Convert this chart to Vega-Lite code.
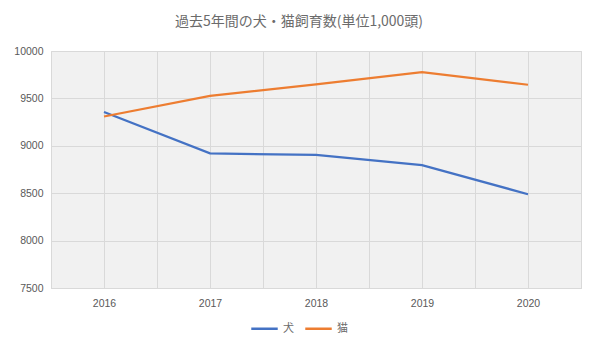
{
  "$schema": "https://vega.github.io/schema/vega-lite/v6.json",
  "width": 530,
  "height": 237,
  "autosize": "none",
  "padding": {"left": 51, "top": 51, "right": 17, "bottom": 65},
  "background": "white",
  "title": {
    "text": "過去5年間の犬・猫飼育数(単位1,000頭)",
    "font": "Noto Sans CJK JP",
    "fontSize": 14,
    "fontWeight": "normal",
    "color": "#6b6b6b",
    "anchor": "middle",
    "dx": -17,
    "offset": 17
  },
  "data": {
    "values": [
      {"year": 2016, "animal": "犬", "count": 9356},
      {"year": 2017, "animal": "犬", "count": 8920},
      {"year": 2018, "animal": "犬", "count": 8903},
      {"year": 2019, "animal": "犬", "count": 8797},
      {"year": 2020, "animal": "犬", "count": 8489},
      {"year": 2016, "animal": "猫", "count": 9309},
      {"year": 2017, "animal": "猫", "count": 9526},
      {"year": 2018, "animal": "猫", "count": 9649},
      {"year": 2019, "animal": "猫", "count": 9778},
      {"year": 2020, "animal": "猫", "count": 9644}
    ]
  },
  "mark": {"type": "line", "strokeWidth": 2.25},
  "encoding": {
    "x": {
      "field": "year",
      "type": "quantitative",
      "scale": {"domain": [2015.5, 2020.5], "nice": false, "zero": false},
      "axis": {
        "title": null,
        "values": [2015.5, 2016, 2016.5, 2017, 2017.5, 2018, 2018.5, 2019, 2019.5, 2020, 2020.5],
        "labelExpr": "datum.value % 1 == 0 ? '' + datum.value : ''",
        "ticks": false,
        "grid": true,
        "gridColor": "#d9d9d9",
        "domainColor": "#d9d9d9",
        "labelColor": "#595959",
        "labelFont": "Liberation Sans",
        "labelFontSize": 10.5,
        "labelPadding": 10,
        "labelFlush": false
      }
    },
    "y": {
      "field": "count",
      "type": "quantitative",
      "scale": {"domain": [7500, 10000], "nice": false, "zero": false},
      "axis": {
        "title": null,
        "values": [7500, 8000, 8500, 9000, 9500, 10000],
        "format": "d",
        "ticks": false,
        "domain": false,
        "grid": true,
        "gridColor": "#d9d9d9",
        "labelColor": "#595959",
        "labelFont": "Liberation Sans",
        "labelFontSize": 10.5,
        "labelPadding": 8
      }
    },
    "color": {
      "field": "animal",
      "type": "nominal",
      "scale": {"domain": ["犬", "猫"], "range": ["#4472C4", "#ED7D31"]},
      "legend": {
        "title": null,
        "orient": "none",
        "direction": "horizontal",
        "legendX": 199,
        "legendY": 263,
        "symbolType": "stroke",
        "symbolSize": 700,
        "symbolStrokeWidth": 2.5,
        "labelFont": "Noto Sans CJK JP",
        "labelFontSize": 11,
        "labelColor": "#6b6b6b",
        "columnPadding": 6,
        "labelOffset": 4
      }
    }
  },
  "config": {
    "view": {"fill": "#f1f1f1", "stroke": "#d9d9d9"}
  }
}
